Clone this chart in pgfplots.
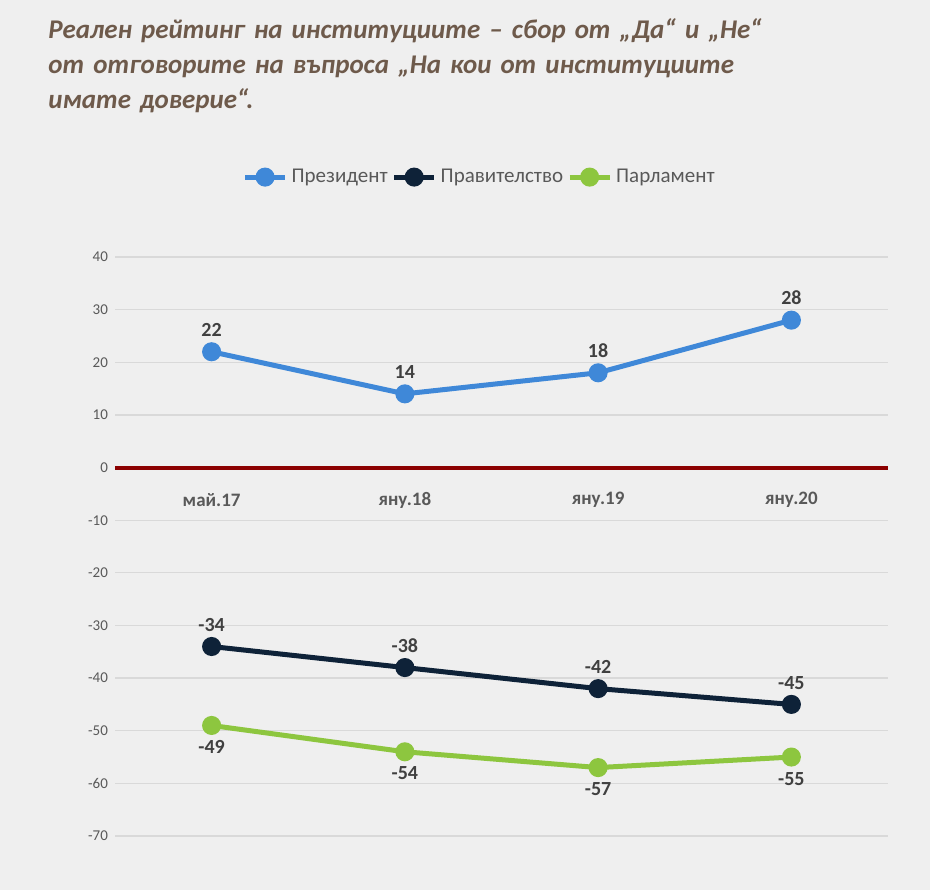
\documentclass[border=0pt]{standalone}
\usepackage{fontspec}
\setmainfont{Carlito}
\usepackage{pgfplots}
\pgfplotsset{compat=1.18}
\definecolor{bg}{HTML}{EFEFEF}
\definecolor{ttl}{HTML}{6E5A4B}
\definecolor{pres}{HTML}{3F88D8}
\definecolor{gov}{HTML}{0E2238}
\definecolor{parl}{HTML}{8DC63F}
\definecolor{zero}{HTML}{8B0000}
\definecolor{lbl}{HTML}{404040}
\definecolor{tck}{HTML}{595959}
\begin{document}
\begin{tikzpicture}[x=1pt,y=1pt]
\fill[bg] (0,0) rectangle (465,445);
\node[anchor=north west,align=left,text width=440pt,font=\fontsize{13.5}{17.5}\selectfont\bfseries\itshape,text=ttl,inner sep=0pt] at (24,436)
{Реален рейтинг на институциите – сбор от „Да“ и „Не“\\от отговорите на въпроса „На кои от институциите\\имате доверие“.};
\begin{axis}[at={(57.5pt,27pt)},anchor=south west,scale only axis,
 width=386.5pt,height=289.5pt,
 xmin=-0.5,xmax=3.5,ymin=-70,ymax=40,
 ytick={-70,-60,...,40},xtick=\empty,
 axis line style={draw=none},major tick length=0pt,
 ymajorgrids,grid style={color=black!15,line width=0.6pt},
 yticklabel style={font=\fontsize{7.5}{9}\selectfont,text=tck},
 /pgf/number format/assume math mode=true,
 clip=false,
 legend style={at={(axis description cs:0.473,1.138)},anchor=center,draw=none,fill=none,
   legend columns=3,font=\fontsize{10.5}{12}\selectfont,text=tck},
 legend image code/.code={\draw[#1,line width=2.5pt] (0pt,0pt) -- (20pt,0pt); \fill[#1] (10pt,0pt) circle (3.5pt);},
 every node near coord/.append style={font=\fontsize{10}{12}\selectfont\bfseries,text=lbl},
]
\addplot[pres,line width=2.5pt,mark=*,mark size=3.5pt,nodes near coords,every node near coord/.append style={anchor=south,yshift=3pt}] coordinates {(0,22) (1,14) (2,18) (3,28)};
\addlegendentry{Президент\hspace{40pt}}
\addplot[gov,line width=2.5pt,mark=*,mark size=3.5pt,nodes near coords,every node near coord/.append style={anchor=south,yshift=3pt}] coordinates {(0,-34) (1,-38) (2,-42) (3,-45)};
\addlegendentry{Правителство\hspace{40pt}}
\addplot[parl,line width=2.5pt,mark=*,mark size=3.5pt,nodes near coords,every node near coord/.append style={anchor=north,yshift=-3pt}] coordinates {(0,-49) (1,-54) (2,-57) (3,-55)};
\addlegendentry{Парламент}
\draw[zero,line width=2pt] (axis cs:-0.5,0) -- (axis cs:3.5,0);
\node[font=\fontsize{9.5}{11}\selectfont\bfseries,text=tck] at (axis cs:0,-6.2) {май.17};
\node[font=\fontsize{9.5}{11}\selectfont\bfseries,text=tck] at (axis cs:1,-6.2) {яну.18};
\node[font=\fontsize{9.5}{11}\selectfont\bfseries,text=tck] at (axis cs:2,-6.2) {яну.19};
\node[font=\fontsize{9.5}{11}\selectfont\bfseries,text=tck] at (axis cs:3,-6.2) {яну.20};
\end{axis}
\end{tikzpicture}
\end{document}
